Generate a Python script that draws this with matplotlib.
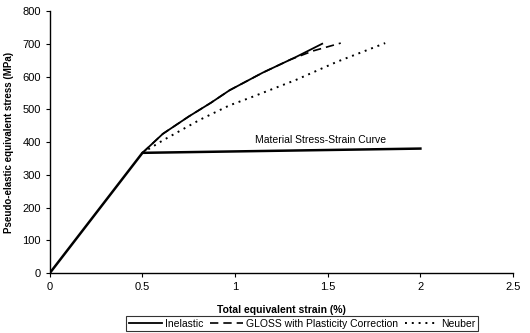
import matplotlib.pyplot as plt

plt.rcParams['font.family'] = ['Liberation Sans', 'DejaVu Sans']

# Elastic line and the bilinear material curve
material_strain = [0.0, 0.5, 2.0]
material_stress = [0, 367, 380]

# Predicted pseudo-elastic responses (%, MPa)
inelastic_strain = [0.5, 0.61, 0.75, 0.87, 0.97, 1.15, 1.33, 1.47]
inelastic_stress = [367, 425, 478, 520, 558, 612, 660, 700]

gloss_strain = [0.5, 0.61, 0.75, 0.87, 0.97, 1.15, 1.30, 1.42, 1.57]
gloss_stress = [367, 425, 478, 520, 558, 612, 652, 678, 702]

neuber_strain = [0.5, 0.61, 0.81, 0.97, 1.08, 1.33, 1.55, 1.81]
neuber_stress = [367, 405, 468, 512, 535, 590, 645, 702]

fig = plt.figure(figsize=(5.3, 3.33), dpi=100)
ax = fig.add_axes([0.094, 0.18, 0.874, 0.787])

ax.plot(material_strain, material_stress, color='black', lw=1.8)
l1, = ax.plot(inelastic_strain, inelastic_stress, color='black', lw=1.3,
              label='Inelastic')
l2, = ax.plot(gloss_strain, gloss_stress, color='black', lw=1.2,
              linestyle=(0, (5, 3)), label='GLOSS with Plasticity Correction')
l3, = ax.plot(neuber_strain, neuber_stress, color='black', lw=1.4,
              linestyle=(0, (1, 2.5)), label='Neuber')

ax.text(1.46, 405, 'Material Stress-Strain Curve', fontsize=7.5,
        ha='center', va='center')

ax.set_xlim(0, 2.5)
ax.set_ylim(0, 800)
ax.set_xticks([0, 0.5, 1, 1.5, 2, 2.5])
ax.set_xticklabels(['0', '0.5', '1', '1.5', '2', '2.5'])
ax.set_yticks(range(0, 801, 100))
ax.tick_params(labelsize=8, length=3, width=0.8, direction='out')
for side in ['top', 'right']:
    ax.spines[side].set_visible(False)
for side in ['left', 'bottom']:
    ax.spines[side].set_linewidth(1.0)

ax.set_xlabel('Total equivalent strain (%)', fontsize=7.5, fontweight='bold',
              labelpad=9)
ax.set_ylabel('Pseudo-elastic equivalent stress (MPa)', fontsize=7,
              fontweight='bold', labelpad=6)

leg = fig.legend(handles=[l1, l2, l3], loc='center', ncol=3,
                 bbox_to_anchor=(0.57, 0.028), fontsize=7.5, frameon=True,
                 fancybox=False, edgecolor='black', handlelength=3.2,
                 handletextpad=0.3, columnspacing=0.6, borderpad=0.25)
leg.get_frame().set_linewidth(0.8)

fig.savefig('out.png', dpi=100)
